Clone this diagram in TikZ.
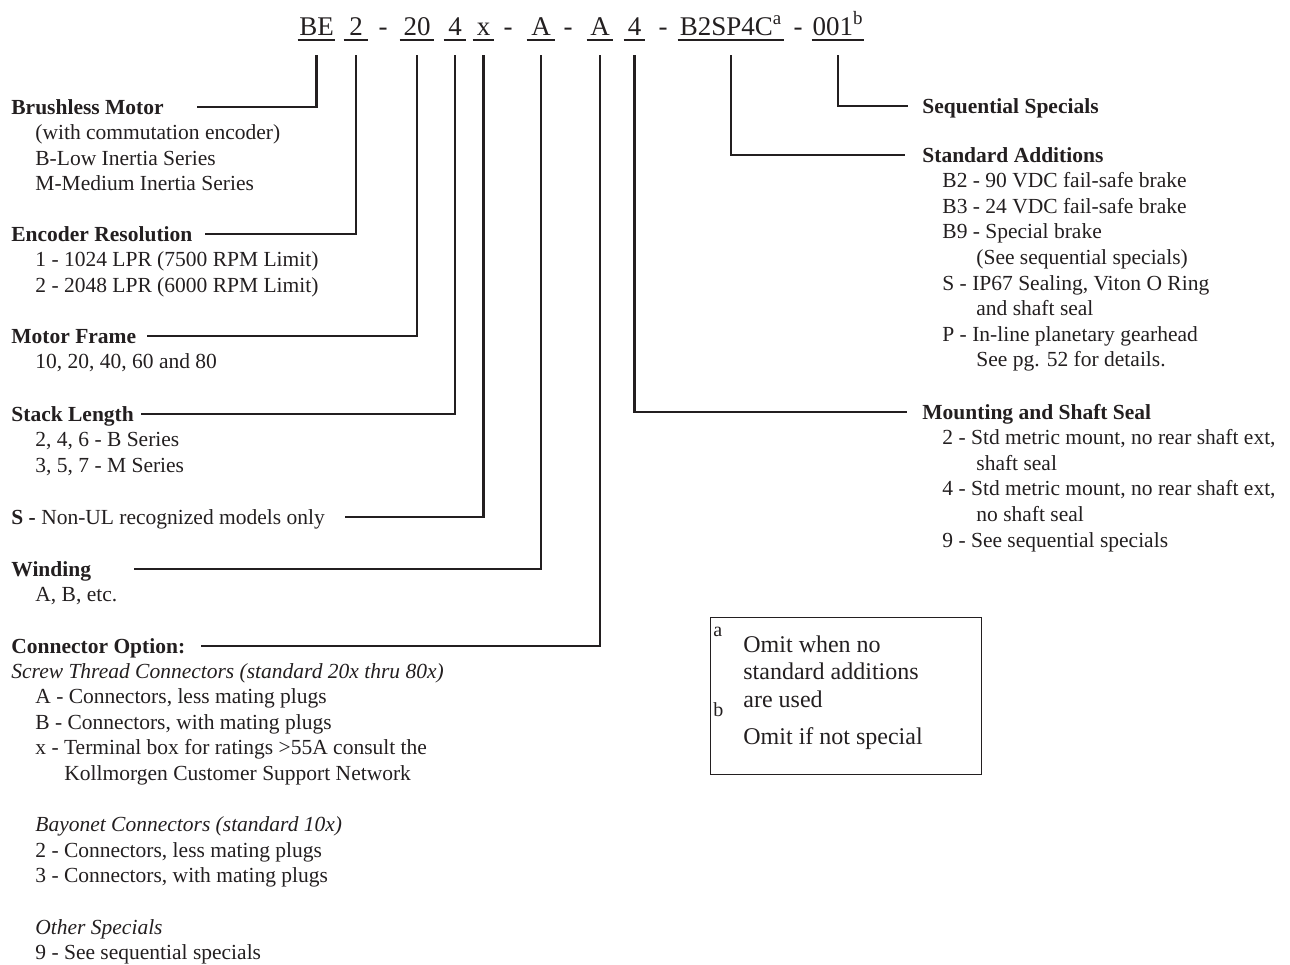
\documentclass[tikz,border=0pt]{standalone}
\usepackage{fontspec}
\setmainfont{Liberation Serif}
\usetikzlibrary{positioning}
\definecolor{ink}{RGB}{35,31,32}
\tikzset{
  conn/.style={draw=ink,line width=1.2pt},
  uline/.style={draw=ink,line width=1pt},
  code/.style={font=\fontsize{13.5}{16}\selectfont,anchor=base,inner xsep=0pt,inner ysep=2.5pt,text depth=0pt},
  head/.style={font=\fontsize{10.75}{12.8}\selectfont\bfseries,anchor=base west,inner sep=0pt,text height=7pt,text depth=0pt},
  desc/.style={font=\fontsize{10.75}{12.8}\selectfont,anchor=base west,inner sep=0pt,align=left},
  fnt/.style={font=\fontsize{12}{13.75}\selectfont,anchor=base west,inner sep=0pt,align=left},
  fmark/.style={font=\fontsize{10}{11}\selectfont,anchor=base west,inner sep=0pt},
}

\begin{document}
\begin{tikzpicture}[x=0.5pt,y=-0.5pt,color=ink]
  \useasboundingbox (0,0) rectangle (1290,964);
  % model code, one underlined field per node
  \foreach \nm/\txt/\cx/\fw in {cBE/BE/316.5/18.5, c2/2/356/12, c20/20/417/17, c4/4/455/11, cx/x/483.5/10.5,
      cA/A/541/14, cA2/A/600/13, c42/4/634.5/10.5, cB2/{B2SP4C\textsuperscript{a}}/731/53, c001/{001\textsuperscript{b}}/838/26} {
    \node[code,minimum width=\fw pt] (\nm) at (\cx,35) {\txt};
    \draw[uline] (\nm.south west) -- (\nm.south east);}
  \foreach \nm/\cx in {d1/383, d2/508, d3/568, d4/663, d5/798} \node[code] (\nm) at (\cx,35) {-};

  % left column (multi-line nodes sit on their last line)
  \node[head] (hBM) at (11,114) {Brushless Motor};
  \node[desc] (tBM) at (35,190.8) {(with commutation encoder)\\B-Low Inertia Series\\M-Medium Inertia Series};
  \node[head] (hER) at (11,241) {Encoder Resolution};
  \node[desc] (tER) at (35,292.2) {1 - 1024 LPR (7500 RPM Limit)\\2 - 2048 LPR (6000 RPM Limit)};
  \node[head] (hMF) at (11,343) {Motor Frame};
  \node[desc] (tMF) at (35,368.6) {10, 20, 40, 60 and 80};
  \node[head] (hSL) at (11,421) {Stack Length};
  \node[desc] (tSL) at (35,472.2) {2, 4, 6 - B Series\\3, 5, 7 - M Series};
  \node[head] (hUL) at (11,524) {S - \mdseries Non-UL recognized models only};
  \node[head] (hWI) at (11,576) {Winding};
  \node[desc] (tWI) at (35,601.6) {A, B, etc.};
  \node[head] (hCO) at (11,653) {Connector Option:};
  \node[desc] (tCO) at (11,959.6) {\textit{Screw Thread Connectors (standard 20x thru 80x)}\\
    \hspace*{12pt}A - Connectors, less mating plugs\\
    \hspace*{12pt}B - Connectors, with mating plugs\\
    \hspace*{12pt}x - Terminal box for ratings >55A consult the\\
    \hspace*{26.5pt}Kollmorgen Customer Support Network\\[12.8pt]
    \hspace*{12pt}\textit{Bayonet Connectors (standard 10x)}\\
    \hspace*{12pt}2 - Connectors, less mating plugs\\
    \hspace*{12pt}3 - Connectors, with mating plugs\\[12.8pt]
    \hspace*{12pt}\textit{Other Specials}\\
    \hspace*{12pt}9 - See sequential specials};

  % right column
  \node[head] (hSQ) at (922,113) {Sequential Specials};
  \node[head] (hSA) at (922,162) {Standard Additions};
  \node[desc] (tSA) at (942,366.8) {B2 - 90 VDC fail-safe brake\\B3 - 24 VDC fail-safe brake\\B9 - Special brake\\
    \hspace*{17pt}(See sequential specials)\\S - IP67 Sealing, Viton O Ring\\\hspace*{17pt}and shaft seal\\
    P - In-line planetary gearhead\\\hspace*{17pt}See pg. 52 for details.};
  \node[head] (hMS) at (922,419) {Mounting and Shaft Seal};
  \node[desc] (tMS) at (942,547) {2 - Std metric mount, no rear shaft ext,\\\hspace*{17pt}shaft seal\\
    4 - Std metric mount, no rear shaft ext,\\\hspace*{17pt}no shaft seal\\9 - See sequential specials};

  % leaders from the code fields
  \foreach \cf/\hd/\gp in {cBE/hBM.east/16.5, c2/hER.east/6, c20/hMF.east/5, c4/hSL.east/3.5, cx/hUL.east/10,
      cA/hWI.east/21.5, cA2/hCO.east/7.5, c42/hMS.west/7.5, cB2/hSA.west/8.5, c001/hSQ.west/7}
    \draw[conn,shorten <=7.5pt,shorten >=\gp pt] (\cf.south) |- (\hd);

  % footnotes
  \node[draw=ink,line width=0.6pt,anchor=north west,inner sep=0pt,minimum width=135.5pt,minimum height=78.5pt] (fbox) at (710,617) {};
  \node[fmark] (fa) at (713,636) {a};
  \node[fnt] (fA) at (743,707) {Omit when no\\standard additions\\are used};
  \node[fmark] (fb) at (713,716) {b};
  \node[fnt] (fB) at (743,744) {Omit if not special};
\end{tikzpicture}
\end{document}
